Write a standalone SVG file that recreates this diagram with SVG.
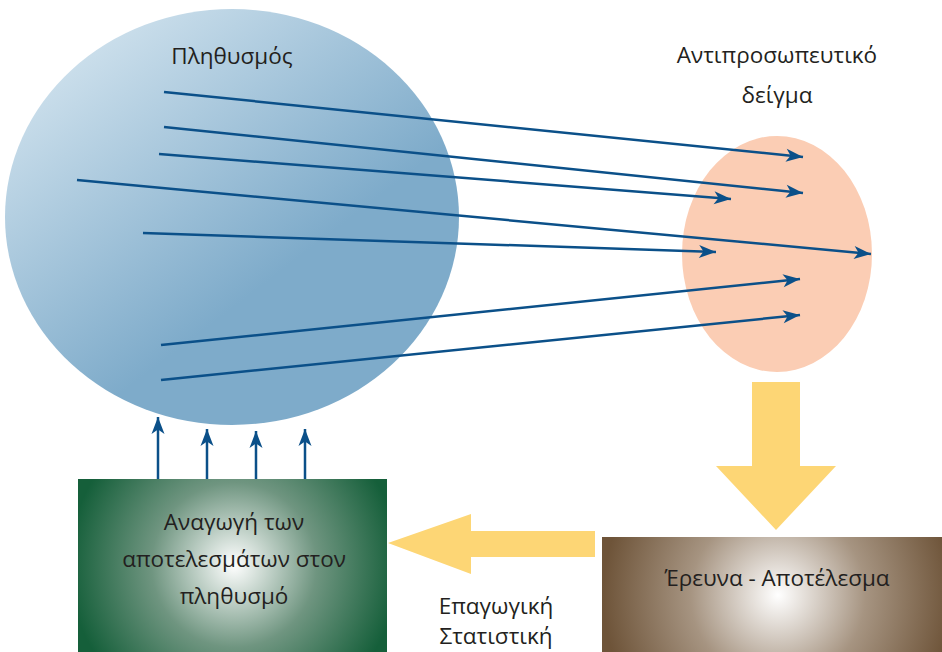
<svg xmlns="http://www.w3.org/2000/svg" width="942" height="652" viewBox="0 0 942 652">
<style>
text{font-family:"Open Sans","Noto Sans","Liberation Sans",sans-serif;font-size:22.5px;fill:#231f20;text-anchor:middle}
.ln{stroke:#0b5089;stroke-width:2.5;fill:none;marker-end:url(#ah)}
.yl{fill:#fdd675}
</style>
<defs>
<marker id="ah" viewBox="-18 -8 19 16" refX="0" refY="0" markerWidth="19" markerHeight="16" markerUnits="userSpaceOnUse" orient="auto">
<path d="M0,0 L-17,-6.5 L-12.5,0 L-17,6.5 Z" fill="#0b5089"/>
</marker>
<linearGradient id="gPop" x1="0.12" y1="0.02" x2="0.62" y2="0.62">
<stop offset="0" stop-color="#d6e6f0"/>
<stop offset="1" stop-color="#7eabca"/>
</linearGradient>
<radialGradient id="gGreen" gradientUnits="userSpaceOnUse" cx="234" cy="565" r="165">
<stop offset="0" stop-color="#ffffff"/>
<stop offset="0.5" stop-color="#6f9580"/>
<stop offset="1" stop-color="#155f3a"/>
</radialGradient>
<radialGradient id="gBrown" gradientUnits="userSpaceOnUse" cx="778" cy="595" r="175">
<stop offset="0" stop-color="#ffffff"/>
<stop offset="0.5" stop-color="#a69481"/>
<stop offset="1" stop-color="#6e5439"/>
</radialGradient>
</defs>
<g id="population">
<ellipse cx="232" cy="217" rx="227" ry="208" fill="url(#gPop)"/>
<text x="232" y="64">Πληθυσμός</text>
</g>
<g id="sample">
<ellipse cx="777" cy="254" rx="95" ry="118" fill="#fbcdb4"/>
<text x="777" y="63">Αντιπροσωπευτικό</text>
<text x="777" y="103">δείγμα</text>
</g>
<g id="reduction">
<rect x="78" y="479" width="309" height="173" fill="url(#gGreen)"/>
<text x="234" y="530">Αναγωγή των</text>
<text x="234" y="567">αποτελεσμάτων στον</text>
<text x="234" y="604">πληθυσμό</text>
</g>
<g id="research">
<rect x="602" y="537" width="340" height="115" fill="url(#gBrown)"/>
<text x="777" y="586">Έρευνα - Αποτέλεσμα</text>
</g>
<g id="induction-label">
<text x="496" y="614">Επαγωγική</text>
<text x="496" y="644">Στατιστική</text>
</g>
<g id="connectors">
<line class="ln" x1="164" y1="92" x2="803" y2="157"/>
<line class="ln" x1="164" y1="127" x2="803" y2="193"/>
<line class="ln" x1="159" y1="154" x2="731" y2="199"/>
<line class="ln" x1="77" y1="180" x2="871" y2="254"/>
<line class="ln" x1="143" y1="233" x2="716" y2="252"/>
<line class="ln" x1="161" y1="345" x2="800" y2="279"/>
<line class="ln" x1="161" y1="380" x2="800" y2="315"/>
<line class="ln" x1="158" y1="479" x2="158" y2="417"/>
<line class="ln" x1="207" y1="479" x2="207" y2="429"/>
<line class="ln" x1="256" y1="479" x2="256" y2="431"/>
<line class="ln" x1="305" y1="479" x2="305" y2="429"/>
<polygon class="yl" points="752,382 800,382 800,466 836,466 776,530 716,466 752,466"/>
<polygon class="yl" points="595,531 595,557 471,557 471,574 388,543 471,514 471,531"/>
</g>
</svg>
